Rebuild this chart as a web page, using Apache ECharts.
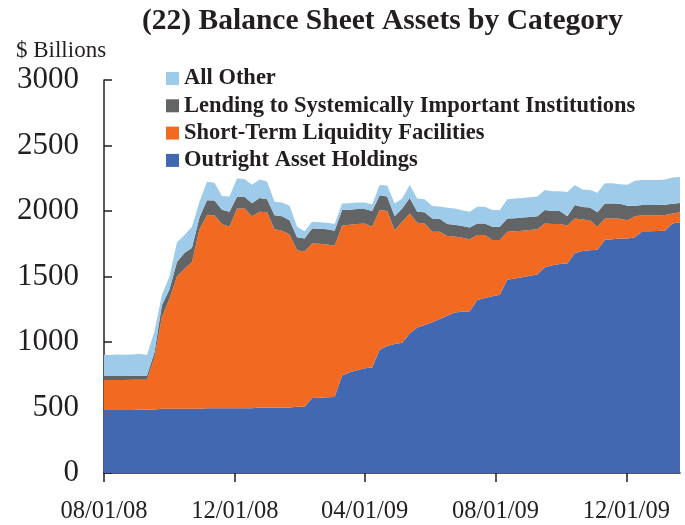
<!DOCTYPE html>
<html>
<head>
<meta charset="utf-8">
<script src="https://cdn.jsdelivr.net/npm/echarts@6/dist/echarts.min.js"></script>
<style>
  html, body { margin: 0; padding: 0; background: #fff; }
  #chart { width: 685px; height: 525px; }
</style>
</head>
<body>
<div id="chart"></div>
<script>
// weekly dates (Wednesdays)
const weeks = [
  '2008-07-30','2008-08-06','2008-08-13','2008-08-20','2008-08-27','2008-09-03','2008-09-10','2008-09-17',
  '2008-09-24','2008-10-01','2008-10-08','2008-10-15','2008-10-22','2008-10-29','2008-11-05','2008-11-12',
  '2008-11-19','2008-11-26','2008-12-03','2008-12-10','2008-12-17','2008-12-24','2008-12-31','2009-01-07',
  '2009-01-14','2009-01-21','2009-01-28','2009-02-04','2009-02-11','2009-02-18','2009-02-25','2009-03-04',
  '2009-03-11','2009-03-18','2009-03-25','2009-04-01','2009-04-08','2009-04-15','2009-04-22','2009-04-29',
  '2009-05-06','2009-05-13','2009-05-20','2009-05-27','2009-06-03','2009-06-10','2009-06-17','2009-06-24',
  '2009-07-01','2009-07-08','2009-07-15','2009-07-22','2009-07-29','2009-08-05','2009-08-12','2009-08-19',
  '2009-08-26','2009-09-02','2009-09-09','2009-09-16','2009-09-23','2009-09-30','2009-10-07','2009-10-14',
  '2009-10-21','2009-10-28','2009-11-04','2009-11-11','2009-11-18','2009-11-25','2009-12-02','2009-12-09',
  '2009-12-16','2009-12-23','2009-12-30','2010-01-06','2010-01-13','2010-01-20'
];

// $ billions
const outright = [
  480, 480, 480, 480, 480, 482, 482, 485, 490, 490, 490, 490, 490, 490, 495, 495,
  495, 495, 495, 495, 495, 500, 500, 500, 500, 500, 505, 505, 572, 575, 578, 580,
  745, 770, 785, 800, 805, 940, 970, 985, 995, 1064, 1110, 1130, 1150, 1175, 1200, 1225,
  1230, 1235, 1320, 1335, 1350, 1360, 1475, 1485, 1495, 1505, 1515, 1570, 1585, 1595,
  1600, 1680, 1695, 1700, 1705, 1780, 1785, 1790, 1790, 1800, 1845, 1846, 1848, 1850,
  1905, 1915
];
const shortTerm = [
  230, 230, 230, 230, 232, 230, 230, 395, 700, 840, 1010, 1070, 1120, 1370, 1473, 1473,
  1405, 1385, 1525, 1525, 1465, 1494, 1490, 1360, 1350, 1320, 1195, 1185, 1180, 1175, 1167, 1155,
  1145, 1125, 1115, 1105, 1075, 1067, 1030, 869, 922, 917, 801, 775, 691, 666, 610, 580,
  565, 550, 496, 481, 428, 418, 366, 360, 355, 350, 345, 335, 315, 305,
  290, 263, 240, 230, 174, 163, 158, 150, 140, 160, 123, 122, 120, 120,
  76, 75
];
const lending = [
  30, 30, 30, 30, 30, 30, 30, 40, 90, 70, 110, 120, 110, 90, 115, 112,
  110, 115, 88, 88, 100, 106, 100, 108, 110, 110, 100, 100, 115, 115, 115, 115,
  117, 115, 115, 110, 120, 114, 110, 106, 103, 119, 83, 85, 102, 99, 90, 90,
  90, 90, 89, 89, 101, 101, 102, 100, 100, 100, 100, 102, 100, 100,
  70, 102, 95, 96, 111, 115, 115, 115, 110, 80, 77, 77, 77, 78,
  74, 72
];
const allOther = [
  165, 160, 165, 162, 163, 168, 158, 160, 80, 100, 150, 136, 160, 120, 140, 135,
  105, 115, 141, 137, 140, 140, 135, 102, 105, 110, 80, 55, 50, 50, 50, 50,
  51, 50, 50, 50, 50, 77, 85, 98, 76, 98, 102, 100, 96, 95, 125, 125,
  120, 120, 127, 127, 128, 128, 147, 150, 150, 150, 150, 153, 150, 150,
  185, 153, 135, 134, 150, 153, 153, 150, 160, 190, 191, 191, 191, 192,
  200, 198
];

const seriesNames = ['Outright Asset Holdings', 'Short-Term Liquidity Facilities',
  'Lending to Systemically Important Institutions', 'All Other'];
const seriesColors = ['#4168B0', '#F26A22', '#636466', '#9FCBEB'];
const xTicks = ['2008-08-01', '2008-12-01', '2009-04-01', '2009-08-01', '2009-12-01'];

function toTime(s) {
  const p = s.split('-').map(Number);
  return Date.UTC(p[0], p[1] - 1, p[2]);
}
function fmtDate(v) {
  const d = new Date(v);
  const mm = String(d.getUTCMonth() + 1).padStart(2, '0');
  const dd = String(d.getUTCDate()).padStart(2, '0');
  const yy = String(d.getUTCFullYear() % 100).padStart(2, '0');
  return mm + '/' + dd + '/' + yy;
}

const chart = echarts.init(document.getElementById('chart'));
const seriesData = [outright, shortTerm, lending, allOther];
const textColor = '#231f20';
const font = 'Liberation Serif';
const xMin = toTime('2008-08-01');
const xMax = toTime('2010-01-20');

chart.setOption({
  animation: false,
  title: [
    {
      text: '(22) Balance Sheet Assets by Category',
      left: 137,
      top: 1,
      textStyle: { fontFamily: font, fontSize: 29.5, fontWeight: 'bold', color: textColor }
    },
    {
      text: '$ Billions',
      left: 11,
      top: 34,
      textStyle: { fontFamily: font, fontSize: 23, fontWeight: 'normal', color: textColor }
    }
  ],
  legend: {
    orient: 'vertical',
    left: 161,
    top: 62,
    icon: 'rect',
    itemWidth: 13,
    itemHeight: 13,
    itemGap: 4.3,
    data: [seriesNames[3], seriesNames[2], seriesNames[1], seriesNames[0]],
    textStyle: { fontFamily: font, fontSize: 22.5, fontWeight: 'bold', color: textColor, lineHeight: 22 }
  },
  grid: { left: 104, right: 5, top: 80, bottom: 52 },
  xAxis: [
    {
      // data axis (time, so that series stack on y)
      type: 'time',
      position: 'bottom',
      min: xMin,
      max: xMax,
      axisLine: { lineStyle: { color: textColor, width: 1.5 } },
      axisTick: { show: false },
      axisLabel: { show: false },
      splitLine: { show: false }
    },
    {
      // tick / label axis at the first of the month
      type: 'value',
      position: 'bottom',
      min: xMin,
      max: xMax,
      axisLine: { show: false },
      axisTick: {
        show: true, inside: false, length: 9,
        customValues: xTicks.map(toTime),
        lineStyle: { color: textColor, width: 1.5 }
      },
      axisLabel: {
        customValues: xTicks.map(toTime),
        formatter: fmtDate,
        fontFamily: font, fontSize: 24.5, color: textColor, margin: 26
      },
      splitLine: { show: false }
    }
  ],
  yAxis: {
    type: 'value',
    min: 0,
    max: 3000,
    interval: 500,
    axisLine: { show: true, lineStyle: { color: textColor, width: 1.5 } },
    axisTick: { show: true, inside: true, length: 8, lineStyle: { color: textColor, width: 1.5 } },
    axisLabel: { fontFamily: font, fontSize: 31, color: textColor, margin: 25, formatter: v => String(v) },
    splitLine: { show: false }
  },
  series: seriesNames.map((name, k) => ({
    name: name,
    type: 'line',
    xAxisIndex: 0,
    stack: 'total',
    symbol: 'none',
    lineStyle: { width: 0 },
    itemStyle: { color: seriesColors[k] },
    areaStyle: { color: seriesColors[k], opacity: 1 },
    data: weeks.map((w, i) => [toTime(w), seriesData[k][i]])
  }))
});
</script>
</body>
</html>
